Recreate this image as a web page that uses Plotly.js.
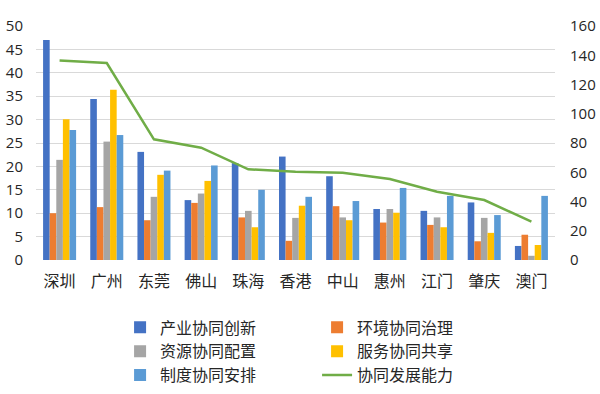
<!DOCTYPE html>
<html>
<head>
<meta charset="utf-8">
<script src="https://cdn.plot.ly/plotly-3.0.1.min.js"></script>
<style>html,body{margin:0;padding:0;background:#fff;}#chart{width:600px;height:394px;}</style>
</head>
<body>
<div id="chart"></div>
<script>
var cities = ["深圳","广州","东莞","佛山","珠海","香港","中山","惠州","江门","肇庆","澳门"];
var industry = [47.0, 34.4, 23.1, 12.8, 20.7, 22.1, 17.9, 10.9, 10.5, 12.3, 3.0];
var environment = [10.0, 11.3, 8.5, 12.2, 9.1, 4.1, 11.5, 8.0, 7.5, 4.0, 5.4];
var resource = [21.4, 25.3, 13.5, 14.2, 10.5, 9.0, 9.1, 10.9, 9.1, 9.0, 0.9];
var service = [30.1, 36.4, 18.2, 16.9, 7.0, 11.6, 8.5, 10.1, 7.0, 5.8, 3.2];
var institution = [27.8, 26.7, 19.1, 20.2, 15.0, 13.5, 12.6, 15.4, 13.7, 9.6, 13.7];
var capability = [136.4, 134.7, 82.5, 76.8, 62.0, 60.4, 59.7, 55.4, 46.7, 41.0, 26.2];
var seriesNames = ["产业协同创新","环境协同治理","资源协同配置","服务协同共享","制度协同安排","协同发展能力"];
var colors = ["#4472C4","#ED7D31","#A5A5A5","#FFC000","#5B9BD5","#70AD47"];

var barData = [industry, environment, resource, service, institution];
var traces = barData.map(function(v, i){
  return {type:"bar", x:cities, y:v, name:seriesNames[i], marker:{color:colors[i]}, yaxis:"y"};
});
traces.push({type:"scatter", mode:"lines", x:cities, y:capability, name:seriesNames[5],
  line:{color:colors[5], width:2.5}, yaxis:"y2"});

var font = {family:"'Noto Sans CJK SC', 'Noto Sans', sans-serif", size:16, color:"#262626"};
var numFont = {family:"'Open Sans', sans-serif", size:15, color:"#262626"};
var layout = {
  width:600, height:394,
  margin:{l:36, r:45, t:26, b:134, autoexpand:false},
  paper_bgcolor:"#fff", plot_bgcolor:"#fff",
  font:font,
  barmode:"group", bargap:0.3, bargroupgap:0,
  showlegend:true,
  legend:{orientation:"h", x:0.162, xanchor:"left", yref:"container", y:0.212, yanchor:"top",
    entrywidth:152, font:{family:font.family, size:16, color:"#262626"}, tracegroupgap:0, traceorder:"normal"},
  xaxis:{type:"category", showgrid:false, zeroline:false, showline:false, ticks:"",
    ticklabelstandoff:10, tickfont:{family:font.family, size:16, color:"#262626"}, automargin:false},
  yaxis:{range:[0,50], dtick:5, showgrid:true, gridcolor:"#D9D9D9", gridwidth:1, zeroline:false,
    showline:false, ticks:"", ticklabelstandoff:12, tickfont:numFont, automargin:false},
  yaxis2:{range:[0,160], dtick:20, overlaying:"y", side:"right", showgrid:false, zeroline:false,
    showline:false, ticks:"", ticklabelstandoff:14, tickfont:numFont, automargin:false}
};
Plotly.newPlot("chart", traces, layout, {displayModeBar:false, staticPlot:true});
</script>
</body>
</html>
